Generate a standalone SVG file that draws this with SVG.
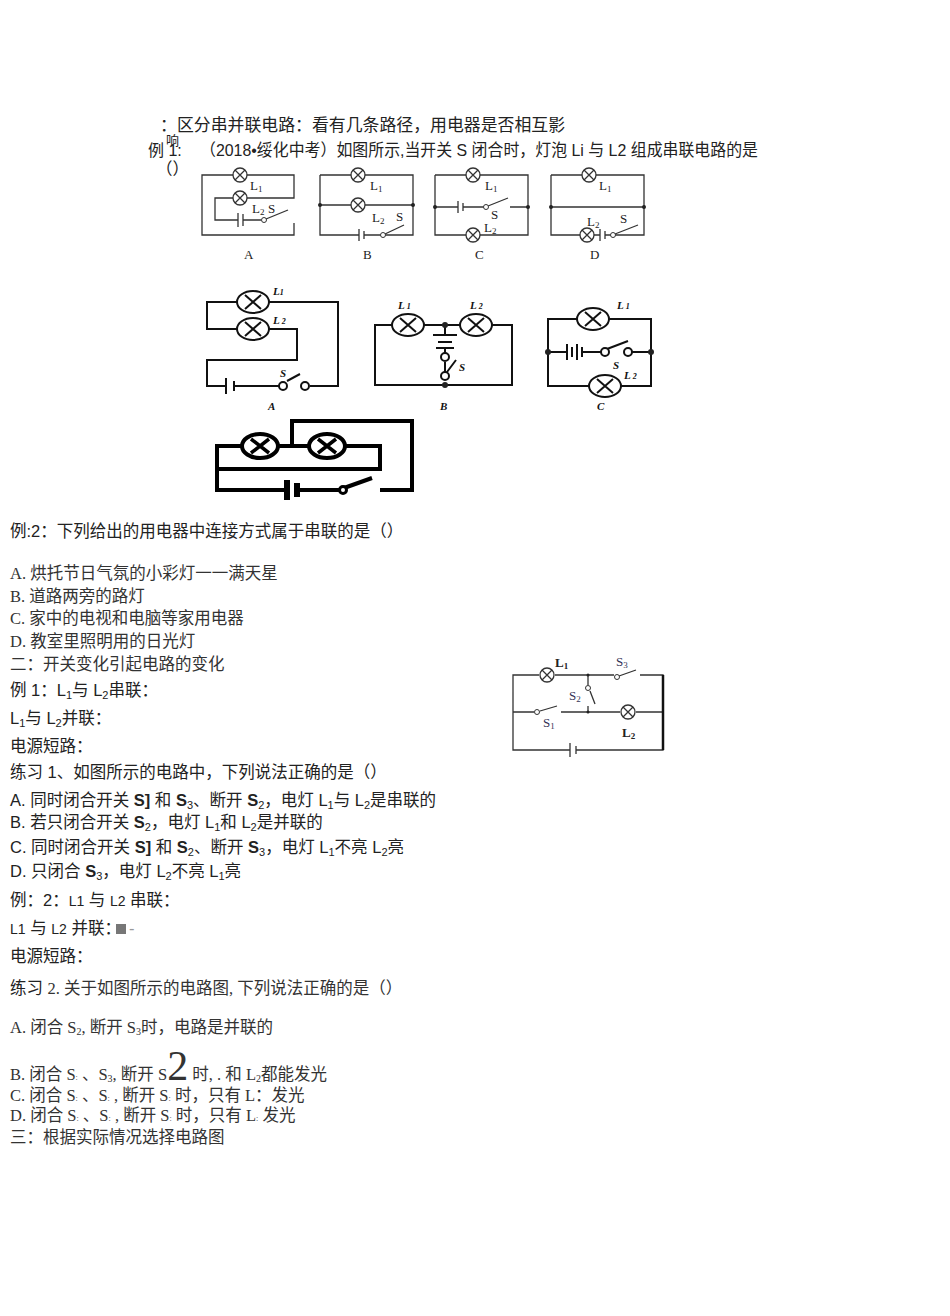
<svg xmlns="http://www.w3.org/2000/svg" xmlns:xlink="http://www.w3.org/1999/xlink" width="950" height="1316" viewBox="0 0 950 1316">
<style>
text{font-family:"Liberation Sans","Noto Sans CJK SC",sans-serif;font-size:16.5px;fill:#222}
.s{font-family:"Liberation Serif","Noto Sans CJK SC",serif;font-size:16.5px;fill:#333}
.lb{font-family:"Liberation Serif",serif;font-size:13px;fill:#222}
.lbi{font-family:"Liberation Serif",serif;font-size:11px;font-style:italic;font-weight:bold;fill:#111}
.w{fill:none;stroke:#333;stroke-width:1.3}
.t{fill:none;stroke:#111;stroke-width:2}
.k{fill:none;stroke:#000;stroke-width:4}
.d{fill:#222}
</style>
<defs>
<g id="lamp"><circle r="7" fill="#fff" stroke="#333" stroke-width="1.3"/><path d="M-5,-5L5,5M-5,5L5,-5" stroke="#333" stroke-width="1.3"/></g>
<g id="lampB"><ellipse rx="16" ry="11" fill="#fff" stroke="#111" stroke-width="2"/><path d="M-8,-7L8,7M-8,7L8,-7" stroke="#111" stroke-width="2"/></g>
<g id="lampK"><ellipse rx="18" ry="12" fill="#fff" stroke="#000" stroke-width="4"/><path d="M-9,-7L9,7M-9,7L9,-7" stroke="#000" stroke-width="3.5"/></g>
</defs>

<g id="texts">
<text x="160" y="131" textLength="405" lengthAdjust="spacingAndGlyphs">：区分串并联电路：看有几条路径，用电器是否相互影</text>
<text x="166" y="145" style="font-size:13px">响</text>
<text x="148" y="156" style="font-size:16px">例 1:</text>
<text x="200" y="156" textLength="558" lengthAdjust="spacingAndGlyphs">（2018•绥化中考）如图所示,当开关 S 闭合时，灯泡 Li 与 L2 组成串联电路的是</text>
<text x="156" y="175">（）</text>
<text x="10" y="537">例:2：下列给出的用电器中连接方式属于串联的是（）</text>
<text class="s" x="10" y="579">A. 烘托节日气氛的小彩灯一一满天星</text>
<text class="s" x="10" y="602">B. 道路两旁的路灯</text>
<text class="s" x="10" y="624">C. 家中的电视和电脑等家用电器</text>
<text class="s" x="10" y="647">D. 教室里照明用的日光灯</text>
<text class="s" x="10" y="670">二：开关变化引起电路的变化</text>
<text x="10" y="696">例 1：L<tspan font-size="11" dy="3">1</tspan><tspan dy="-3">与 L</tspan><tspan font-size="11" dy="3">2</tspan><tspan dy="-3">串联：</tspan></text>
<text x="10" y="724">L<tspan font-size="11" dy="3">1</tspan><tspan dy="-3">与 L</tspan><tspan font-size="11" dy="3">2</tspan><tspan dy="-3">并联：</tspan></text>
<text x="10" y="752">电源短路：</text>
<text x="10" y="778">练习 1、如图所示的电路中，下列说法正确的是（）</text>
<text x="10" y="806">A. 同时闭合开关 <tspan font-weight="bold">S]</tspan> 和 <tspan font-weight="bold">S</tspan><tspan font-size="11" dy="3">3</tspan><tspan dy="-3">、断开 </tspan><tspan font-weight="bold">S</tspan><tspan font-size="11" dy="3">2</tspan><tspan dy="-3">，电灯 L</tspan><tspan font-size="11" dy="3">1</tspan><tspan dy="-3">与 L</tspan><tspan font-size="11" dy="3">2</tspan><tspan dy="-3">是串联的</tspan></text>
<text x="10" y="828">B. 若只闭合开关 <tspan font-weight="bold">S</tspan><tspan font-size="11" dy="3">2</tspan><tspan dy="-3">，电灯 L</tspan><tspan font-size="11" dy="3">1</tspan><tspan dy="-3">和 L</tspan><tspan font-size="11" dy="3">2</tspan><tspan dy="-3">是并联的</tspan></text>
<text x="10" y="853">C. 同时闭合开关 <tspan font-weight="bold">S]</tspan> 和 <tspan font-weight="bold">S</tspan><tspan font-size="11" dy="3">2</tspan><tspan dy="-3">、断开 </tspan><tspan font-weight="bold">S</tspan><tspan font-size="11" dy="3">3</tspan><tspan dy="-3">，电灯 L</tspan><tspan font-size="11" dy="3">1</tspan><tspan dy="-3">不亮 L</tspan><tspan font-size="11" dy="3">2</tspan><tspan dy="-3">亮</tspan></text>
<text x="10" y="877">D. 只闭合 <tspan font-weight="bold">S</tspan><tspan font-size="11" dy="3">3</tspan><tspan dy="-3">，电灯 L</tspan><tspan font-size="11" dy="3">2</tspan><tspan dy="-3">不亮 L</tspan><tspan font-size="11" dy="3">1</tspan><tspan dy="-3">亮</tspan></text>
<text x="10" y="906">例：2：<tspan font-size="14">L1</tspan> 与 <tspan font-size="14">L2</tspan> 串联：</text>
<text x="10" y="934"><tspan font-size="14">L1</tspan> 与 <tspan font-size="14">L2</tspan> 并联：</text>
<rect x="116" y="924" width="10" height="10" fill="#777"/>
<text x="129" y="934" style="fill:#999">-</text>
<text x="10" y="962">电源短路：</text>
<text x="10" y="994">练习 <tspan class="s">2. 关于如图所示的电路图, 下列说法正确的是（）</tspan></text>
<text class="s" x="10" y="1033">A. 闭合 S<tspan font-size="10" dy="2">2</tspan><tspan dy="-2">, 断开 S</tspan><tspan font-size="10" dy="2">3</tspan><tspan dy="-2">时，电路是并联的</tspan></text>
<text class="s" x="10" y="1080">B. 闭合 S<tspan font-size="8">:</tspan> 、S<tspan font-size="10" dy="2">3</tspan><tspan dy="-2">, 断开 S</tspan><tspan font-size="42">2</tspan> 时, . 和 L<tspan font-size="10" dy="2">2</tspan><tspan dy="-2">都能发光</tspan></text>
<text class="s" x="10" y="1101">C. 闭合 S<tspan font-size="8">:</tspan> 、S<tspan font-size="8">:</tspan> , 断开 S<tspan font-size="8">:</tspan> 时，只有 L：发光</text>
<text class="s" x="10" y="1121">D. 闭合 S<tspan font-size="8">:</tspan> 、S<tspan font-size="8">:</tspan> , 断开 S<tspan font-size="8">:</tspan> 时，只有 L<tspan font-size="8">:</tspan> 发光</text>
<text class="s" x="10" y="1143">三：根据实际情况选择电路图</text>
</g>

<g id="r1A">
<path class="w" d="M202,175H294V198H247M233,175H202V235H294V223M233,198H215V220H238M243,220H261M243,214V226"/>
<path class="w" d="M238,213V227"/>
<circle cx="264" cy="220" r="2.5" fill="#fff" stroke="#333"/><path class="w" d="M266,219L288,210"/>
<use href="#lamp" x="240" y="175"/><use href="#lamp" x="240" y="198"/>
<text class="lb" x="250" y="190">L<tspan font-size="9" dy="2">1</tspan></text>
<text class="lb" x="252" y="213">L<tspan font-size="9" dy="2">2</tspan></text>
<text class="lb" x="268" y="213">S</text>
<text class="lb" x="244" y="259">A</text>
</g>
<g id="r1B">
<path class="w" d="M320,175H413V235H385M320,175V235H359M320,205H413M364,235H381"/>
<path class="w" d="M359,229V241M364,231V239M385,234L404,225"/>
<circle cx="383" cy="235" r="2.5" fill="#fff" stroke="#333"/>
<circle class="d" cx="320" cy="205" r="2"/><circle class="d" cx="413" cy="205" r="2"/>
<use href="#lamp" x="358" y="175"/><use href="#lamp" x="358" y="205"/>
<text class="lb" x="370" y="190">L<tspan font-size="9" dy="2">1</tspan></text>
<text class="lb" x="372" y="222">L<tspan font-size="9" dy="2">2</tspan></text>
<text class="lb" x="396" y="221">S</text>
<text class="lb" x="363" y="259">B</text>
</g>
<g id="r1C">
<path class="w" d="M435,175H528V235H435V175M435,207H458M463,207H484M510,207H528M458,201V213M463,203V211M488,206L508,198"/>
<circle cx="486" cy="207" r="2.5" fill="#fff" stroke="#333"/>
<circle class="d" cx="435" cy="207" r="2"/><circle class="d" cx="528" cy="207" r="2"/>
<use href="#lamp" x="473" y="175"/><use href="#lamp" x="473" y="235"/>
<text class="lb" x="485" y="190">L<tspan font-size="9" dy="2">1</tspan></text>
<text class="lb" x="491" y="219">S</text>
<text class="lb" x="484" y="232">L<tspan font-size="9" dy="2">2</tspan></text>
<text class="lb" x="475" y="259">C</text>
</g>
<g id="r1D">
<path class="w" d="M551,175H644V235H614M551,175V235H600M551,207H644M605,235H611M600,229V241M605,231V239M615,234L638,225"/>
<circle cx="613" cy="235" r="2.5" fill="#fff" stroke="#333"/>
<circle class="d" cx="551" cy="207" r="2"/><circle class="d" cx="644" cy="207" r="2"/>
<use href="#lamp" x="589" y="175"/><use href="#lamp" x="587" y="235"/>
<text class="lb" x="599" y="190">L<tspan font-size="9" dy="2">1</tspan></text>
<text class="lb" x="587" y="226">L<tspan font-size="9" dy="2">2</tspan></text>
<text class="lb" x="620" y="223">S</text>
<text class="lb" x="590" y="259">D</text>
</g>

<g id="r2A">
<path class="t" d="M237,302H207V329H237M269,302H338V386H310M269,329H297V360H207V386H226M234,386H280M226,378V394M234,381V391M287,381L300,374"/>
<circle cx="283" cy="386" r="4" fill="#fff" stroke="#111" stroke-width="2"/><circle cx="305" cy="386" r="4" fill="#fff" stroke="#111" stroke-width="2"/>
<use href="#lampB" x="253" y="302"/><use href="#lampB" x="253" y="329"/>
<text class="lbi" x="273" y="295">L<tspan font-size="8">1</tspan></text>
<text class="lbi" x="273" y="324">L<tspan font-size="8"> 2</tspan></text>
<text class="lbi" x="280" y="377">S</text>
<text class="lbi" x="268" y="410" font-style="normal">A</text>
</g>
<g id="r2B">
<path class="t" d="M392,325H375V385H512V325H492M424,325H460M445,325V335M433,335H457M438,342H452M436,348H454M445,348V353M445,362V380M447,372L456,360"/>
<circle cx="445" cy="357" r="4" fill="#fff" stroke="#111" stroke-width="2"/><circle cx="445" cy="376" r="4" fill="#fff" stroke="#111" stroke-width="2"/>
<circle class="d" cx="445" cy="325" r="3"/><circle class="d" cx="445" cy="385" r="3"/>
<use href="#lampB" x="408" y="325"/><use href="#lampB" x="476" y="325"/>
<text class="lbi" x="398" y="309">L<tspan font-size="8"> 1</tspan></text>
<text class="lbi" x="470" y="309">L<tspan font-size="8"> 2</tspan></text>
<text class="lbi" x="459" y="371">S</text>
<text class="lbi" x="440" y="410" font-style="normal">B</text>
</g>
<g id="r2C">
<path class="t" d="M577,319H548V386H589M609,319H651V386H621M548,352H567M582,352H602M632,352H651M567,344V360M572,347V357M577,344V360M582,347V357M607,349L628,341"/>
<circle cx="605" cy="352" r="4" fill="#fff" stroke="#111" stroke-width="2"/><circle cx="628" cy="352" r="4" fill="#fff" stroke="#111" stroke-width="2"/>
<circle class="d" cx="548" cy="352" r="3"/><circle class="d" cx="651" cy="352" r="3"/>
<use href="#lampB" x="593" y="319"/><use href="#lampB" x="605" y="386"/>
<text class="lbi" x="617" y="309">L<tspan font-size="8"> 1</tspan></text>
<text class="lbi" x="624" y="379">L<tspan font-size="8"> 2</tspan></text>
<text class="lbi" x="613" y="369">S</text>
<text class="lbi" x="597" y="410" font-style="normal">C</text>
</g>
<g id="r3">
<path class="k" d="M242,446H217V490H285M299,490H340M344,488L372,478M380,490H412V421H292V446M278,446H309M345,446H380V469H217"/>
<path d="M287,480V500M297,483V497" stroke="#000" stroke-width="6"/>
<circle cx="343" cy="490" r="3.5" fill="#fff" stroke="#000" stroke-width="3"/>
<use href="#lampK" x="260" y="446"/><use href="#lampK" x="327" y="446"/>
</g>

<g id="rR">
<path class="w" d="M539,675H513V750H570M576,750H663V712M555,675H614M640,675H663V712M513,712H534M540,711L557,706M561,712H620M636,712H663M588,675V685M588,712V706M590,691L595,704M570,743V757M576,746V754M619,676L636,670"/>
<path d="M663,675V750" stroke="#111" stroke-width="2.5"/>
<circle cx="617" cy="677" r="2.5" fill="#fff" stroke="#333"/><circle cx="588" cy="688" r="2.5" fill="#fff" stroke="#333"/><circle cx="537" cy="712" r="2.5" fill="#fff" stroke="#333"/>
<circle class="d" cx="588" cy="675" r="1.5"/><circle class="d" cx="588" cy="712" r="1.5"/>
<use href="#lamp" x="547" y="675"/><use href="#lamp" x="628" y="712"/>
<text class="lb" x="555" y="667" font-weight="bold">L<tspan font-size="9" dy="2">1</tspan></text>
<text class="lb" x="616" y="666" style="fill:#335">S<tspan font-size="9" dy="2">3</tspan></text>
<text class="lb" x="569" y="700" style="fill:#335">S<tspan font-size="9" dy="2">2</tspan></text>
<text class="lb" x="543" y="727" style="fill:#335">S<tspan font-size="9" dy="2">1</tspan></text>
<text class="lb" x="622" y="737" font-weight="bold">L<tspan font-size="9" dy="2">2</tspan></text>
</g>
</svg>
